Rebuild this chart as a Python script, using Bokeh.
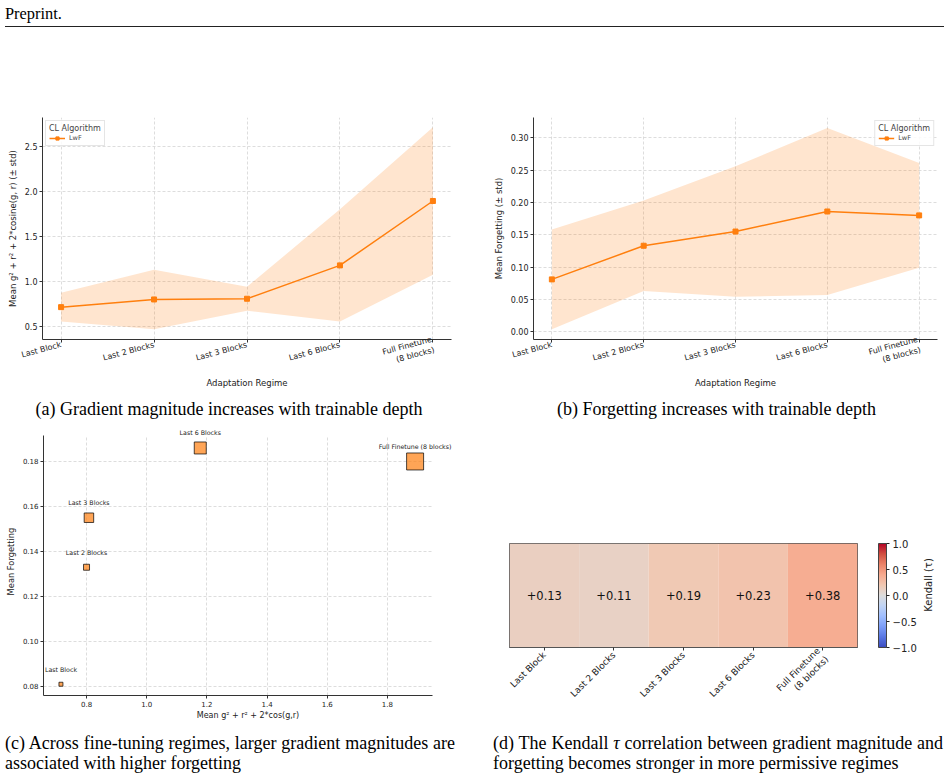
import math

from bokeh.core.properties import value
from bokeh.embed import file_html
from bokeh.layouts import column, row
from bokeh.models import (ColorBar, ColumnDataSource, Div, FixedTicker, LabelSet,
                          Legend, LegendItem, LinearColorMapper, PrintfTickFormatter,
                          Range1d, Spacer)
from bokeh.plotting import figure
from bokeh.resources import INLINE

# ---------------------------------------------------------------- data
regimes = ["Last Block", "Last 2 Blocks", "Last 3 Blocks", "Last 6 Blocks",
           "Full Finetune\n(8 blocks)"]
regime_names = ["Last Block", "Last 2 Blocks", "Last 3 Blocks", "Last 6 Blocks",
                "Full Finetune (8 blocks)"]
grad_mean = [0.715, 0.800, 0.808, 1.178, 1.892]
grad_std = [0.160, 0.330, 0.132, 0.622, 0.818]
forget_mean = [0.081, 0.133, 0.155, 0.186, 0.180]
forget_std = [0.077, 0.070, 0.101, 0.129, 0.081]
kendall_tau = [0.13, 0.11, 0.19, 0.23, 0.38]

grad_ticks = [0.5, 1.0, 1.5, 2.0, 2.5]
forget_ticks = [0.00, 0.05, 0.10, 0.15, 0.20, 0.25, 0.30]
scatter_x_ticks = [0.8, 1.0, 1.2, 1.4, 1.6, 1.8]
scatter_y_ticks = [0.08, 0.10, 0.12, 0.14, 0.16, 0.18]
cbar_ticks = [-1.0, -0.5, 0.0, 0.5, 1.0]

# ---------------------------------------------------------------- style
ORANGE = "#ff7f0e"
FONT = "DejaVu Sans"
SERIF = "Liberation Serif"
square_px = [4, 6, 9.5, 12, 17]  # marker sides for panel (c)

# panel (c) axis spans; the frame is a little larger so the point labels are not cut
SC_X = (0.657, 1.95)
SC_Y = (0.076, 0.1916)


def coolwarm_palette(n=256):
    anchors = ["#3b4cc0", "#5977e3", "#7d9ef8", "#9fbeff", "#c0d4f5", "#dddddd",
               "#f1c8b2", "#f7aa8f", "#eb8368", "#d24f41", "#b40426"]
    rgb = [tuple(int(h[i:i + 2], 16) for i in (1, 3, 5)) for h in anchors]
    out = []
    for k in range(n):
        t = k / (n - 1) * (len(rgb) - 1)
        i = min(int(t), len(rgb) - 2)
        f = t - i
        c = [round(rgb[i][j] + (rgb[i + 1][j] - rgb[i][j]) * f) for j in range(3)]
        out.append("#%02x%02x%02x" % tuple(c))
    return out


def style_axes(p, tick_size="8px", label_size="8.5px"):
    p.outline_line_color = None
    p.background_fill_color = "white"
    p.border_fill_color = "white"
    for ax in list(p.xaxis) + list(p.yaxis):
        ax.axis_line_color = "#333333"
        ax.axis_line_width = 1
        ax.major_tick_line_color = "#333333"
        ax.major_tick_out = 3
        ax.major_tick_in = 0
        ax.minor_tick_line_color = None
        ax.major_label_text_font = FONT
        ax.major_label_text_font_size = tick_size
        ax.major_label_text_color = "#222222"
        ax.major_label_standoff = 2
        ax.axis_label_text_font = FONT
        ax.axis_label_text_font_style = "normal"
        ax.axis_label_text_font_size = label_size
        ax.axis_label_text_color = "#222222"
    p.grid.grid_line_color = "#d4d4d4"
    p.grid.grid_line_dash = "3 2"
    p.grid.grid_line_width = 0.8


def trend_panel(mean, std, y_range, ticks, fmt, ylabel, width, borders, legend_loc):
    idx = list(range(len(regimes)))
    upper = [m + s for m, s in zip(mean, std)]
    lower = [m - s for m, s in zip(mean, std)]
    left, right, top, bottom = borders
    p = figure(width=width, height=365, x_range=Range1d(-0.2, 4.2), y_range=Range1d(*y_range),
               toolbar_location=None, output_backend="svg",
               min_border_left=left, min_border_right=right,
               min_border_top=top, min_border_bottom=bottom)
    p.title = None
    p.varea(x=idx, y1=lower, y2=upper, fill_color=ORANGE, fill_alpha=0.2)
    ln = p.line(idx, mean, line_color=ORANGE, line_width=1.5)
    pts = p.scatter(idx, mean, marker="square", size=5, fill_color=ORANGE, line_color=ORANGE)
    style_axes(p)
    p.xaxis.ticker = FixedTicker(ticks=idx)
    p.xaxis.major_label_overrides = {i: regimes[i] for i in idx}
    p.xaxis.major_label_orientation = math.radians(15)
    p.xaxis.axis_label = "Adaptation Regime"
    p.xaxis.axis_label_standoff = -2
    p.yaxis.ticker = FixedTicker(ticks=ticks)
    p.yaxis.formatter = PrintfTickFormatter(format=fmt)
    p.yaxis.axis_label = ylabel
    p.yaxis.axis_label_standoff = 4
    leg = Legend(items=[LegendItem(label="LwF", renderers=[ln, pts])],
                 title="CL Algorithm", location=legend_loc)
    leg.title_text_font = FONT
    leg.title_text_font_size = "8px"
    leg.title_text_font_style = "normal"
    leg.title_standoff = 1
    leg.label_text_font = FONT
    leg.label_text_font_size = "6.5px"
    leg.border_line_color = "#cccccc"
    leg.background_fill_alpha = 0.85
    leg.padding = 3
    leg.margin = 3
    leg.spacing = 0
    leg.glyph_width = 16
    leg.glyph_height = 8
    leg.label_height = 8
    leg.label_standoff = 4
    p.add_layout(leg)
    return p


# ---------------------------------------------------------------- (a) and (b)
fig_a = trend_panel(grad_mean, grad_std, (0.356, 2.818), grad_ticks, "%.1f",
                    "Mean g\u00b2 + r\u00b2 + 2*cosine(g, r) (\u00b1 std)", 470,
                    (42, 19, 85, 58), "top_left")
fig_b = trend_panel(forget_mean, forget_std, (-0.012, 0.3314), forget_ticks, "%.2f",
                    "Mean Forgetting (\u00b1 std)", 479, (63, 12, 85, 58), "top_right")

# ---------------------------------------------------------------- (c) scatter
fig_c = figure(width=470, height=300, x_range=Range1d(SC_X[0], 2.0163),
               y_range=Range1d(SC_Y[0], 0.1951), toolbar_location=None, output_backend="svg",
               min_border_left=43, min_border_right=18, min_border_top=2, min_border_bottom=30)
fig_c.title = None
sc_src = ColumnDataSource(dict(x=grad_mean, y=forget_mean, name=regime_names, side=square_px))
fig_c.scatter("x", "y", source=sc_src, marker="square", size="side",
              fill_color=ORANGE, fill_alpha=0.7, line_color="black", line_alpha=0.7, line_width=1)
fig_c.add_layout(LabelSet(x="x", y="y", text="name", source=sc_src, y_offset=15,
                          text_align="center", text_baseline="middle",
                          text_font=value(FONT), text_font_size="6.3px", text_color="#222222"))
style_axes(fig_c, tick_size="7px", label_size="8px")
fig_c.xaxis.bounds = SC_X
fig_c.yaxis.bounds = SC_Y
# keep the grid inside the axis spans
if "cross_bounds" in fig_c.xgrid[0].properties():
    fig_c.xgrid[0].cross_bounds = SC_Y
    fig_c.ygrid[0].cross_bounds = SC_X
fig_c.xaxis.ticker = FixedTicker(ticks=scatter_x_ticks)
fig_c.xaxis.formatter = PrintfTickFormatter(format="%.1f")
fig_c.xaxis.axis_label = "Mean g\u00b2 + r\u00b2 + 2*cos(g,r)"
fig_c.xaxis.axis_label_standoff = 1
fig_c.yaxis.ticker = FixedTicker(ticks=scatter_y_ticks)
fig_c.yaxis.formatter = PrintfTickFormatter(format="%.2f")
fig_c.yaxis.axis_label = "Mean Forgetting"
fig_c.yaxis.axis_label_text_font_size = "8.3px"
fig_c.yaxis.axis_label_standoff = 4

# ---------------------------------------------------------------- (d) heatmap
mapper = LinearColorMapper(palette=coolwarm_palette(), low=-1, high=1)
idx = list(range(len(regimes)))
hm_src = ColumnDataSource(dict(x=idx, tau=kendall_tau,
                               txt=["%+.2f" % t for t in kendall_tau]))
fig_d = figure(width=449, height=192, x_range=Range1d(-0.5, 4.5), y_range=Range1d(-0.5, 0.5),
               toolbar_location=None, output_backend="svg",
               min_border_left=39, min_border_right=60, min_border_top=10, min_border_bottom=78)
fig_d.title = None
fig_d.rect(x="x", y=0, width=1, height=1, source=hm_src,
           fill_color={"field": "tau", "transform": mapper}, line_color=None)
fig_d.text(x="x", y=0, text="txt", source=hm_src, text_align="center", text_baseline="middle",
           text_font=value(FONT), text_font_size="11.5px", text_color="#111111")
fig_d.outline_line_color = "#555555"
fig_d.outline_line_width = 1
fig_d.grid.visible = False
fig_d.yaxis.visible = False
xa = fig_d.xaxis[0]
xa.ticker = FixedTicker(ticks=idx)
xa.major_label_overrides = {i: regimes[i] for i in idx}
xa.major_label_orientation = math.pi / 4
xa.major_label_text_font = FONT
xa.major_label_text_font_size = "9px"
xa.major_label_text_color = "#222222"
xa.major_label_standoff = 3
xa.axis_line_color = "#555555"
xa.major_tick_line_color = "#333333"
xa.major_tick_out = 3
xa.major_tick_in = 0
xa.minor_tick_line_color = None

cbar = ColorBar(color_mapper=mapper, ticker=FixedTicker(ticks=cbar_ticks),
                major_label_overrides={t: ("%.1f" % t).replace("-", "\u2212") for t in cbar_ticks},
                width=8, height=104, location=(21, 0), padding=0, margin=0,
                bar_line_color="#444444", major_tick_line_color="#222222",
                major_tick_out=3, major_tick_in=0, minor_tick_line_color=None,
                label_standoff=3, major_label_text_font=FONT,
                major_label_text_font_size="10px", major_label_text_color="#222222",
                background_fill_color=None, border_line_color=None)
fig_d.add_layout(cbar, "right")

cbar_title = Div(width=30, height=104, margin=0, text=(
    '<div style="position:relative;width:30px;height:104px;">'
    '<div style="position:absolute;left:10px;top:52px;white-space:nowrap;'
    'transform:translate(-50%%,-50%%) rotate(-90deg);font-family:\'%s\';font-size:10px;'
    'color:#222;line-height:12px;">Kendall (&tau;)</div></div>' % FONT))

# ---------------------------------------------------------------- page text
serif = "font-family:'%s';font-size:18px;color:#000;line-height:20px;" % SERIF
header = Div(width=949, height=32, margin=0, text=(
    '<div style="position:relative;width:949px;height:32px;">'
    '<span style="position:absolute;left:5px;top:4px;white-space:nowrap;font-family:\'%s\';'
    'font-size:16.4px;line-height:19px;color:#000;">Preprint.</span>'
    '<div style="position:absolute;left:5px;top:26px;width:939px;height:1px;background:#222;"></div>'
    '</div>' % SERIF))

cap_row1 = Div(width=949, height=28, margin=0, text=(
    '<div style="position:relative;width:949px;height:28px;">'
    '<div style="position:absolute;left:0px;top:2px;width:458px;text-align:center;white-space:nowrap;%s">'
    '(a) Gradient magnitude increases with trainable depth</div>'
    '<div style="position:absolute;left:493px;top:2px;width:447px;text-align:center;white-space:nowrap;%s">'
    '(b) Forgetting increases with trainable depth</div>'
    '</div>' % (serif, serif)))

first_line = "white-space:nowrap;text-align:justify;text-align-last:justify;"
cap_row2 = Div(width=949, height=53, margin=0, text=(
    '<div style="position:relative;width:949px;height:53px;">'
    '<div style="position:absolute;left:5px;top:8px;width:450px;%s">'
    '<div style="%s">(c) Across fine-tuning regimes, larger gradient magnitudes are</div>'
    '<div style="white-space:nowrap;">associated with higher forgetting</div></div>'
    '<div style="position:absolute;left:493px;top:8px;width:450px;%s">'
    '<div style="%s">(d) The Kendall <i>&tau;</i> correlation between gradient magnitude and</div>'
    '<div style="white-space:nowrap;">forgetting becomes stronger in more permissive regimes</div></div>'
    '</div>' % (serif, first_line, serif, first_line)))

right_d = column(Spacer(width=479, height=108, margin=0),
                 row(fig_d, cbar_title, margin=0), margin=0)
page = column(header, row(fig_a, fig_b), cap_row1,
              row(column(fig_c, margin=0), right_d), cap_row2)

with open("out.html", "w") as f:
    f.write(file_html(page, INLINE, title="Gradient magnitude and forgetting"))
